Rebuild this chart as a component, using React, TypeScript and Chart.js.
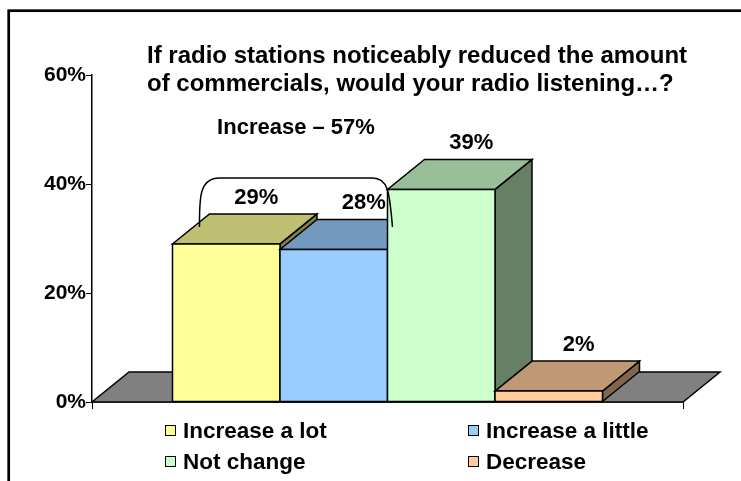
import React, { useEffect, useRef } from 'react';
import { Chart, registerables } from 'chart.js';

Chart.register(...registerables);

// ---- data ----
const categories = [''];
const seriesLabels = ['Increase a lot', 'Increase a little', 'Not change', 'Decrease'];
const seriesValues = [29, 28, 39, 2];
const yTicks = [0, 20, 40, 60];
const titleLines = [
  'If radio stations noticeably reduced the amount',
  'of commercials, would your radio listening\u2026?',
];
const groupLabel = 'Increase';
const groupMembers = [0, 1];

// ---- styles ----
const frontColors = ['#FFFF99', '#99CCFF', '#CCFFCC', '#FFCC99'];
const topColors = ['#BFBF73', '#7399BF', '#99BF99', '#BF9973'];
const sideColors = ['#80804D', '#4D6680', '#668066', '#806650'];
const FONT = '"Liberation Sans", Arial, Helvetica, sans-serif';
const DX = 37;
const DY = -30;

type Pt = [number, number];
function poly(ctx: CanvasRenderingContext2D, pts: Pt[], fill: string) {
  ctx.beginPath();
  ctx.moveTo(pts[0][0], pts[0][1]);
  for (let i = 1; i < pts.length; i++) ctx.lineTo(pts[i][0], pts[i][1]);
  ctx.closePath();
  ctx.fillStyle = fill;
  ctx.fill();
  ctx.stroke();
}

function barBox(chart: any, i: number) {
  const el: any = chart.getDatasetMeta(i).data[0];
  return { l: el.x - el.width / 2, r: el.x + el.width / 2, t: el.y, b: el.base, cx: el.x };
}

const threeD = {
  id: 'threeD',
  beforeDatasetsDraw(chart: any) {
    const { ctx, chartArea, scales } = chart;
    const y0 = scales.y.getPixelForValue(0);
    ctx.save();
    ctx.lineWidth = 1.5;
    ctx.strokeStyle = '#000';
    ctx.lineJoin = 'miter';
    poly(ctx, [
      [chartArea.left, y0],
      [chartArea.right, y0],
      [chartArea.right + DX, y0 + DY],
      [chartArea.left + DX, y0 + DY],
    ], '#808080');
    chart.data.datasets.forEach((_ds: any, i: number) => {
      const { l, r, t, b } = barBox(chart, i);
      poly(ctx, [[r, b], [r + DX, b + DY], [r + DX, t + DY], [r, t]], sideColors[i]);
      poly(ctx, [[l, t], [r, t], [r + DX, t + DY], [l + DX, t + DY]], topColors[i]);
      poly(ctx, [[l, t], [r, t], [r, b], [l, b]], frontColors[i]);
    });
    ctx.restore();
    return false;
  },
};

const overlay = {
  id: 'overlay',
  afterDraw(chart: any) {
    const { ctx } = chart;
    ctx.save();
    ctx.fillStyle = '#000';
    ctx.strokeStyle = '#000';

    // value labels
    ctx.font = `bold 22px ${FONT}`;
    ctx.textAlign = 'center';
    ctx.textBaseline = 'alphabetic';
    chart.data.datasets.forEach((ds: any, i: number) => {
      const { t, cx } = barBox(chart, i);
      ctx.fillText(`${ds.data[0]}%`, cx + 30, t - 40);
    });

    // group bracket
    const a = barBox(chart, groupMembers[0]);
    const z = barBox(chart, groupMembers[groupMembers.length - 1]);
    const topMin = Math.min(...groupMembers.map((g) => barBox(chart, g).t));
    const bl = a.l + 27;
    const br = z.r + 5;
    const bt = topMin - 66;
    const be = topMin - 17;
    ctx.lineWidth = 1.5;
    ctx.beginPath();
    ctx.moveTo(bl, be);
    ctx.bezierCurveTo(bl, bt + 22, bl - 1, bt, bl + 20, bt);
    ctx.lineTo(br - 20, bt);
    ctx.bezierCurveTo(br - 3, bt, br - 3, bt + 18, br, be);
    ctx.stroke();
    const sum = groupMembers.reduce((s, g) => s + seriesValues[g], 0);
    ctx.fillText(`${groupLabel} \u2013 ${sum}%`, (bl + br) / 2, bt - 44);

    // title
    ctx.font = `bold 24px ${FONT}`;
    ctx.textAlign = 'left';
    ctx.fillText(titleLines[0], 147, 63);
    ctx.fillText(titleLines[1], 147, 91);

    // legend
    ctx.font = `bold 22.5px ${FONT}`;
    const colX = [165, 468];
    const rowY = [425, 456];
    seriesLabels.forEach((lab, i) => {
      const x = colX[i % 2];
      const y = rowY[Math.floor(i / 2)];
      ctx.fillStyle = frontColors[i];
      ctx.fillRect(x, y, 11, 11);
      ctx.lineWidth = 1;
      ctx.strokeRect(x + 0.5, y + 0.5, 10, 10);
      ctx.fillStyle = '#000';
      ctx.fillText(lab, x + 18, y + 13);
    });

    // outer frame
    ctx.lineWidth = 2.7;
    ctx.strokeRect(8.7, 10.7, 1200, 1200);
    ctx.restore();
  },
};

export default function App() {
  const ref = useRef<HTMLCanvasElement>(null);
  useEffect(() => {
    document.body.style.margin = '0';
    const chart = new Chart(ref.current as HTMLCanvasElement, {
      type: 'bar',
      data: {
        labels: categories,
        datasets: seriesLabels.map((label, i) => ({
          label,
          data: [seriesValues[i]],
          backgroundColor: frontColors[i],
          borderColor: '#000',
          borderWidth: 1.5,
          categoryPercentage: 430 / 591,
          barPercentage: 1,
        })),
      },
      options: {
        responsive: false,
        animation: false,
        layout: { padding: { left: 0, top: 75, right: 58, bottom: 0 } },
        plugins: {
          legend: { display: false },
          title: { display: false },
          tooltip: { enabled: false },
        },
        scales: {
          x: {
            offset: true,
            grid: { display: true, drawOnChartArea: false, drawTicks: true, tickLength: 7, color: '#000', offset: true },
            border: { display: true, color: '#000', width: 1.5 },
            ticks: { display: false },
            afterFit: (s: any) => { s.height = 79; },
          },
          y: {
            min: 0,
            max: 60,
            afterBuildTicks: (s: any) => { s.ticks = yTicks.map((v) => ({ value: v })); },
            ticks: {
              callback: (v: any) => `${v}%`,
              color: '#000',
              font: { family: FONT, size: 21, weight: 'bold' },
              padding: 0,
            },
            grid: { drawOnChartArea: false, drawTicks: true, tickLength: 6, color: '#000' },
            border: { display: true, color: '#000', width: 1.5 },
            afterFit: (s: any) => { s.width = 92; },
          },
        },
      } as any,
      plugins: [threeD, overlay],
    });
    return () => chart.destroy();
  }, []);
  return (
    <div style={{ position: 'fixed', left: 0, top: 0, width: 741, height: 481, background: '#fff' }}>
      <canvas ref={ref} width={741} height={481} style={{ width: 741, height: 481, display: 'block' }} />
    </div>
  );
}
